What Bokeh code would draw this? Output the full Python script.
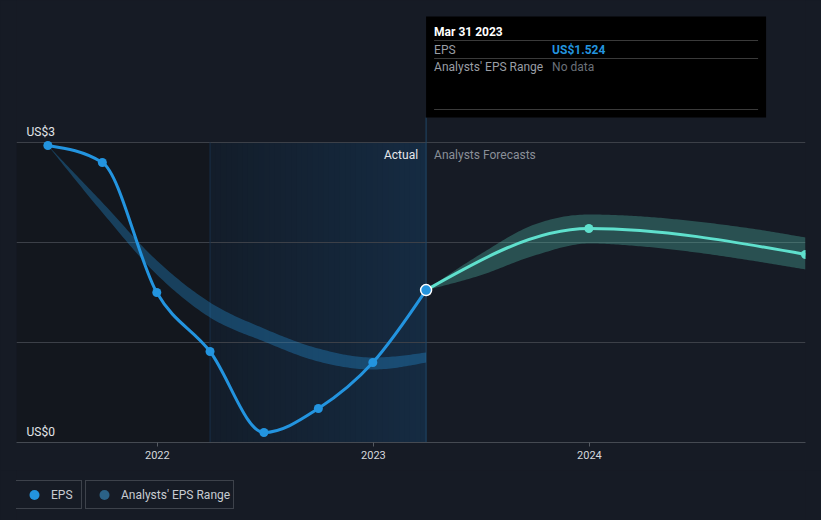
import numpy as np
import pandas as pd
from bokeh.plotting import figure
from bokeh.layouts import column
from bokeh.models import (Range1d, FixedTicker, DatetimeTickFormatter, Label,
                          BoxAnnotation, Legend, LegendItem)
from bokeh.embed import file_html
from bokeh.resources import INLINE

# ---------------- data ----------------
eps_dates = ["2021-06-30", "2021-09-30", "2021-12-31", "2022-03-31",
             "2022-06-30", "2022-09-30", "2022-12-31", "2023-03-31"]
eps_values = [2.97, 2.80, 1.50, 0.91, 0.10, 0.34, 0.80, 1.524]

past_range_dates = eps_dates
past_range_low = [2.97, 2.30, 1.68, 1.25, 1.01, 0.81, 0.73, 0.80]
past_range_high = [2.97, 2.40, 1.82, 1.40, 1.14, 0.94, 0.85, 0.90]

forecast_dates = ["2023-03-31", "2023-12-31", "2024-12-31"]
forecast_values = [1.524, 2.14, 1.88]

forecast_range_dates = ["2023-03-31", "2023-06-30", "2023-09-30", "2023-12-31",
                        "2024-03-31", "2024-06-30", "2024-09-30", "2024-12-31"]
forecast_range_low = [1.524, 1.67, 1.87, 1.99, 1.96, 1.90, 1.82, 1.73]
forecast_range_high = [1.524, 1.88, 2.18, 2.28, 2.26, 2.21, 2.14, 2.05]

year_ticks = ["2022-01-01", "2023-01-01", "2024-01-01"]
y_ticks = [0, 1, 2, 3]
y_labels = {0: "US$0", 3: "US$3"}
highlight_start = "2022-03-31"   # start of the last-12-months window

# ---------------- helpers ----------------
def ms(d):
    return float(pd.Timestamp(d).value // 10**6)

def monotone_beziers(xs, ys):
    """Control points of a monotone-x cubic curve through the given points."""
    xs = np.asarray(xs, float); ys = np.asarray(ys, float)
    n = len(xs)
    h = np.diff(xs); s = np.diff(ys) / h
    sgn = lambda v: -1.0 if v < 0 else 1.0
    t = np.zeros(n)
    for i in range(1, n - 1):
        p_ = (s[i - 1] * h[i] + s[i] * h[i - 1]) / (h[i - 1] + h[i])
        t[i] = (sgn(s[i - 1]) + sgn(s[i])) * min(abs(s[i - 1]), abs(s[i]), 0.5 * abs(p_))
    t[0] = (3 * s[0] - t[1]) / 2
    t[-1] = (3 * s[-1] - t[-2]) / 2
    dx = h / 3
    return dict(x0=xs[:-1], y0=ys[:-1], x1=xs[1:], y1=ys[1:],
                cx0=xs[:-1] + dx, cy0=ys[:-1] + dx * t[:-1],
                cx1=xs[1:] - dx, cy1=ys[1:] - dx * t[1:])

def curve_path(xs, ys, steps=24):
    """Path that traces the monotone curve (used for the smooth band outlines)."""
    b = monotone_beziers(xs, ys)
    px, py_ = [], []
    u = np.linspace(0, 1, steps + 1)
    for i in range(len(b["x0"])):
        uu = u if i == 0 else u[1:]
        a, bb, c, d = (1 - uu) ** 3, 3 * (1 - uu) ** 2 * uu, 3 * (1 - uu) * uu ** 2, uu ** 3
        px.extend(a * b["x0"][i] + bb * b["cx0"][i] + c * b["cx1"][i] + d * b["x1"][i])
        py_.extend(a * b["y0"][i] + bb * b["cy0"][i] + c * b["cy1"][i] + d * b["y1"][i])
    return np.array(px), np.array(py_)

BG = "#161b25"
FONT = "Roboto"
BLUE = "#2394df"
TEAL = "#5fe0cd"

W = 821
FRAME_L, FRAME_R, FRAME_B = 16, 805, 442
FRAME_W = FRAME_R - FRAME_L
x_start, x_end = ms("2021-05-08"), ms("2024-12-31")
y_end = FRAME_B / 100.0
ms_per_px = (x_end - x_start) / FRAME_W

def py(px):  # page y pixel -> data y
    return (FRAME_B - px) / 100.0

p = figure(width=W, height=470, x_axis_type="datetime", y_axis_location=None,
           x_range=Range1d(x_start, x_end), y_range=Range1d(0, y_end),
           output_backend="svg", toolbar_location=None,
           min_border_left=FRAME_L, min_border_right=W - FRAME_R,
           min_border_top=0, min_border_bottom=28,
           background_fill_color=BG, border_fill_color=BG, outline_line_color=None)

# ---------------- background regions ----------------
hl_ms = ms(highlight_start)
last_ms = ms(eps_dates[-1])
p.quad(left=[x_start], right=[hl_ms], bottom=[0], top=[3],
       fill_color="#13171e", line_color=None, level="image")
n_strips = 40
edges = np.linspace(hl_ms, last_ms, n_strips + 1)
c0 = np.array([0x13, 0x1d, 0x2a]); c1 = np.array([0x15, 0x2b, 0x42])
cols = ["#%02x%02x%02x" % tuple(np.round(c0 + (c1 - c0) * f).astype(int))
        for f in np.linspace(0, 1, n_strips)]
rights = np.minimum(edges[1:] + 1.5 * ms_per_px, last_ms)
p.quad(left=edges[:-1], right=rights, bottom=0, top=3,
       fill_color=cols, line_color=None, level="image")

# grid
p.ygrid.ticker = FixedTicker(ticks=y_ticks)
p.ygrid.grid_line_color = "#3c4048"
p.ygrid.grid_line_width = 1
p.xgrid.visible = False

# vertical markers
p.segment(x0=[hl_ms], y0=[0], x1=[hl_ms], y1=[3], line_color="#18304a", line_width=1)
tip_bottom = py(117)
p.segment(x0=[last_ms], y0=[0], x1=[last_ms], y1=[tip_bottom], line_color="#1f4768", line_width=1)

# ---------------- bands ----------------
prx = [ms(d) for d in past_range_dates]
bx, blo = curve_path(prx, past_range_low)
_, bhi = curve_path(prx, past_range_high)
p.varea(x=bx, y1=blo, y2=bhi, fill_color=BLUE, fill_alpha=0.33)

frx = [ms(d) for d in forecast_range_dates]
fx, flo = curve_path(frx, forecast_range_low)
_, fhi = curve_path(frx, forecast_range_high)
p.varea(x=fx, y1=flo, y2=fhi, fill_color="#5ce1c8", fill_alpha=0.27)

# ---------------- lines ----------------
eps_x = [ms(d) for d in eps_dates]
fc_x = [ms(d) for d in forecast_dates]
b1 = monotone_beziers(eps_x, eps_values)
p.bezier(source=b1, x0="x0", y0="y0", x1="x1", y1="y1", cx0="cx0", cy0="cy0",
         cx1="cx1", cy1="cy1", line_color=BLUE, line_width=3)
b2 = monotone_beziers(fc_x, forecast_values)
p.bezier(source=b2, x0="x0", y0="y0", x1="x1", y1="y1", cx0="cx0", cy0="cy0",
         cx1="cx1", cy1="cy1", line_color=TEAL, line_width=3)

p.scatter(x=eps_x[:-1], y=eps_values[:-1], size=9, fill_color=BLUE, line_color=None)
p.scatter(x=fc_x[1:], y=forecast_values[1:], size=9, fill_color=TEAL, line_color=None)
p.scatter(x=eps_x[-1:], y=eps_values[-1:], size=11, fill_color=BLUE,
          line_color="white", line_width=1.5)

# ---------------- axes ----------------
p.xaxis.ticker = FixedTicker(ticks=[ms(d) for d in year_ticks])
p.xaxis.formatter = DatetimeTickFormatter(years="%Y", months="%Y", days="%Y", hours="%Y")
p.xaxis.axis_line_color = "#454a52"
p.xaxis.major_tick_line_color = "#555a62"
p.xaxis.major_tick_out = 4
p.xaxis.major_tick_in = 0
p.xaxis.minor_tick_line_color = None
p.xaxis.major_label_text_color = "#d5d8dc"
p.xaxis.major_label_text_font = FONT
p.xaxis.major_label_text_font_size = "11px"
p.xaxis.major_label_standoff = 4

for v, txt in y_labels.items():
    p.add_layout(Label(x=x_start, y=v, x_offset=10, y_offset=11, text=txt,
                       text_font=FONT, text_font_size="12px", text_color="#e2e5e9",
                       text_baseline="middle", text_align="left"))

p.add_layout(Label(x=last_ms, y=3, x_offset=-8, y_offset=-12, text="Actual",
                   text_font=FONT, text_font_size="12px", text_color="#e6e8eb",
                   text_baseline="middle", text_align="right"))
p.add_layout(Label(x=last_ms, y=3, x_offset=8, y_offset=-12, text="Analysts Forecasts",
                   text_font=FONT, text_font_size="12px", text_color="#8a8f98",
                   text_baseline="middle", text_align="left"))

# ---------------- tooltip box ----------------
tip_right = last_ms + 340 * ms_per_px
p.add_layout(BoxAnnotation(left=last_ms, right=tip_right, bottom=py(117), top=py(16),
                           fill_color="black", fill_alpha=1.0, line_color=None))
sep_l = last_ms + 8 * ms_per_px
sep_r = tip_right - 8 * ms_per_px
sep_y = [py(40), py(58), py(109)]
p.segment(x0=[sep_l] * 3, x1=[sep_r] * 3, y0=sep_y, y1=sep_y,
          line_color="#3a3a3a", line_width=1, level="overlay")

tip_date = pd.Timestamp(eps_dates[-1]).strftime("%b %d %Y")
p.add_layout(Label(x=last_ms, y=py(31), x_offset=8, text=tip_date, text_font=FONT,
                   text_font_size="12px", text_color="#ffffff", text_font_style="bold",
                   text_baseline="middle"))
p.add_layout(Label(x=last_ms, y=py(49), x_offset=8, text="EPS", text_font=FONT,
                   text_font_size="12px", text_color="#9a9ea5", text_baseline="middle"))
p.add_layout(Label(x=last_ms, y=py(49), x_offset=126, text=f"US${eps_values[-1]:.3f}",
                   text_font=FONT, text_font_size="12px", text_color=BLUE,
                   text_font_style="bold", text_baseline="middle"))
p.add_layout(Label(x=last_ms, y=py(66), x_offset=8, text="Analysts' EPS Range", text_font=FONT,
                   text_font_size="12px", text_color="#9a9ea5", text_baseline="middle"))
p.add_layout(Label(x=last_ms, y=py(66), x_offset=126, text="No data", text_font=FONT,
                   text_font_size="12px", text_color="#6b7078", text_baseline="middle"))

# ---------------- legend strip ----------------
LH = 50
q = figure(width=W, height=LH, x_range=Range1d(0, W), y_range=Range1d(0, LH),
           x_axis_location=None, y_axis_location=None,
           output_backend="svg", toolbar_location=None,
           min_border_left=0, min_border_right=0, min_border_top=0, min_border_bottom=0,
           background_fill_color=BG, border_fill_color=BG, outline_line_color=None)
q.xgrid.visible = False
q.ygrid.visible = False
# icon renderers: a single point kept outside the visible range
eps_icon = q.scatter(x=[-100], y=[-100], fill_color=BLUE, line_color=None)
range_icon = q.scatter(x=[-100], y=[-100], fill_color="#2b6287", line_color=None)

def make_legend(label, renderers, xpos, label_w):
    lg = Legend(items=[LegendItem(label=label, renderers=renderers)],
                location=(xpos - 17, 11), orientation="horizontal",
                padding=1, margin=0, spacing=0,
                glyph_width=34, glyph_height=25, label_standoff=0, label_width=label_w,
                label_text_font=FONT, label_text_font_size="12px",
                label_text_color="#c8ccd2",
                border_line_color="#3d424b", border_line_width=1, border_line_alpha=1,
                background_fill_color=BG, background_fill_alpha=1)
    q.add_layout(lg)

make_legend("EPS", [eps_icon], 16, 29)
make_legend("Analysts' EPS Range", [range_icon], 86, 111)

layout = column(p, q, spacing=0)
html = file_html(layout, INLINE)
html = html.replace("</head>",
                    "<style>html, body { background-color: %s !important; }</style></head>" % BG, 1)
open("out.html", "w").write(html)
